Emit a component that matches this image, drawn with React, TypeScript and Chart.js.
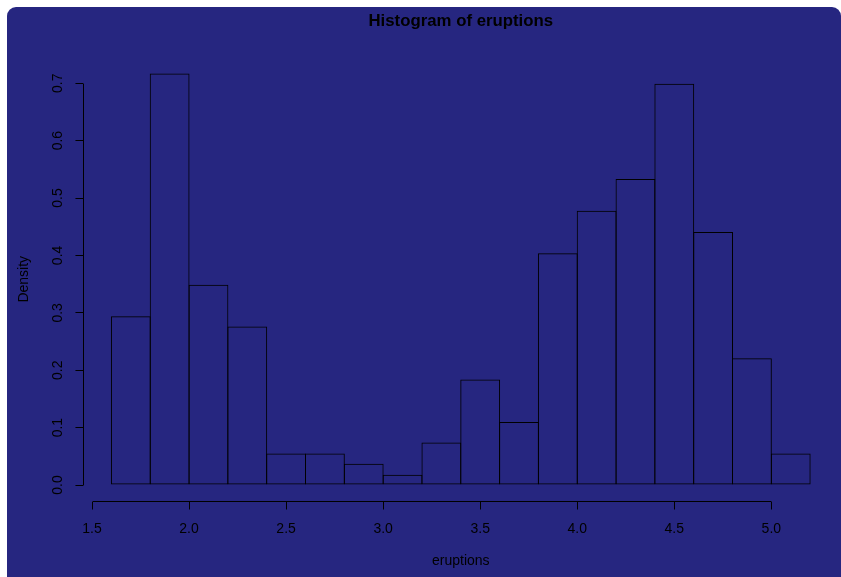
import React, { useEffect, useRef } from 'react';
import { Chart, registerables } from 'chart.js';

Chart.register(...registerables);

// ---- data ----
const chartTitle = 'Histogram of eruptions';
const xLabel = 'eruptions';
const yLabel = 'Density';
const binStarts = [1.6, 1.8, 2.0, 2.2, 2.4, 2.6, 2.8, 3.0, 3.2, 3.4, 3.6, 3.8, 4.0, 4.2, 4.4, 4.6, 4.8, 5.0];
const binWidth = 0.2;
const densities = [0.294, 0.717, 0.349, 0.276, 0.055, 0.055, 0.037, 0.018, 0.074, 0.184, 0.110, 0.404, 0.478, 0.533, 0.699, 0.441, 0.221, 0.055];
const xTicks = [1.5, 2.0, 2.5, 3.0, 3.5, 4.0, 4.5, 5.0];
const yTicks = [0.0, 0.1, 0.2, 0.3, 0.4, 0.5, 0.6, 0.7];

const FONT = '"Liberation Sans", Arial, Helvetica, sans-serif';

// R-style axis extension (4% each side)
const xLo = binStarts[0];
const xHi = binStarts[binStarts.length - 1] + binWidth;
const yHi = Math.max(...densities);
const xMin = xLo - 0.04 * (xHi - xLo);
const xMax = xHi + 0.04 * (xHi - xLo);
const yMin = -0.04 * yHi;
const yMax = yHi + 0.04 * yHi;

const align = (p: number) => Math.round(p - 0.5) + 0.5;

const rPlot = {
  id: 'rPlot',
  afterDraw(chart: any) {
    const { ctx, chartArea, scales } = chart;
    const x = scales.x;
    const y = scales.y;
    ctx.save();
    ctx.strokeStyle = '#000';
    ctx.lineWidth = 1;
    // x axis segment
    const by = align(chartArea.bottom);
    ctx.beginPath();
    ctx.moveTo(align(x.getPixelForValue(xTicks[0])), by);
    ctx.lineTo(align(x.getPixelForValue(xTicks[xTicks.length - 1])), by);
    ctx.stroke();
    // y axis segment
    const lx = align(chartArea.left);
    ctx.beginPath();
    ctx.moveTo(lx, align(y.getPixelForValue(yTicks[0])));
    ctx.lineTo(lx, align(y.getPixelForValue(yTicks[yTicks.length - 1])));
    ctx.stroke();
    // main title
    ctx.fillStyle = '#000';
    ctx.font = `bold 16.8px ${FONT}`;
    ctx.textAlign = 'center';
    ctx.textBaseline = 'middle';
    ctx.fillText(chartTitle, (chartArea.left + chartArea.right) / 2, 14);
    ctx.restore();
  },
};

export default function App() {
  const ref = useRef<HTMLCanvasElement | null>(null);

  useEffect(() => {
    if (!ref.current) return;
    const chart = new Chart(ref.current, {
      type: 'bar',
      data: {
        datasets: [
          {
            data: binStarts.map((s, i) => ({ x: s + binWidth / 2, y: densities[i] })),
            backgroundColor: 'rgba(0,0,0,0)',
            borderColor: '#000',
            borderWidth: 1,
            borderSkipped: false,
            barPercentage: 1.0258,
            categoryPercentage: 1,
            inflateAmount: 0,
          } as any,
        ],
      },
      options: {
        animation: false,
        responsive: false,
        maintainAspectRatio: false,
        layout: { padding: { top: 50, right: 2.9, left: 0, bottom: 0 } },
        plugins: {
          legend: { display: false },
          tooltip: { enabled: false },
          title: { display: false },
        },
        scales: {
          x: {
            type: 'linear',
            min: xMin,
            max: xMax,
            offset: false,
            afterFit: (s: any) => { s.height = 75.5; },
            afterBuildTicks: (s: any) => { s.ticks = xTicks.map((v) => ({ value: v })); },
            grid: { display: true, offset: false, drawOnChartArea: false, drawTicks: true, tickLength: 8, color: '#000', lineWidth: 1 },
            border: { display: false },
            ticks: {
              color: '#000',
              font: { family: FONT, size: 14 },
              padding: 11,
              maxRotation: 0,
              autoSkip: false,
              callback: (v: any) => Number(v).toFixed(1),
            },
            title: { display: true, text: xLabel, color: '#000', font: { family: FONT, size: 14 }, padding: { top: 0, bottom: 7.6 } },
          },
          y: {
            type: 'linear',
            min: yMin,
            max: yMax,
            afterFit: (s: any) => { s.width = 76.46; },
            afterBuildTicks: (s: any) => { s.ticks = yTicks.map((v) => ({ value: v })); },
            grid: { display: true, drawOnChartArea: false, drawTicks: true, tickLength: 8, color: '#000', lineWidth: 1 },
            border: { display: false },
            ticks: {
              color: '#000',
              font: { family: FONT, size: 14 },
              padding: 7.7,
              minRotation: 90,
              maxRotation: 90,
              crossAlign: 'center',
              autoSkip: false,
              callback: (v: any) => Number(v).toFixed(1),
            },
            title: { display: true, text: yLabel, color: '#000', font: { family: FONT, size: 14 }, padding: { top: 8.4, bottom: 0 } },
          },
        } as any,
      },
      plugins: [rPlot],
    });
    return () => chart.destroy();
  }, []);

  return (
    <div
      style={{
        position: 'absolute',
        left: 7,
        top: 7,
        width: 834,
        height: 570,
        background: '#262680',
        borderRadius: '9px 9px 0 0',
        overflow: 'hidden',
      }}
    >
      <canvas ref={ref} width={834} height={570} style={{ display: 'block' }} />
    </div>
  );
}
